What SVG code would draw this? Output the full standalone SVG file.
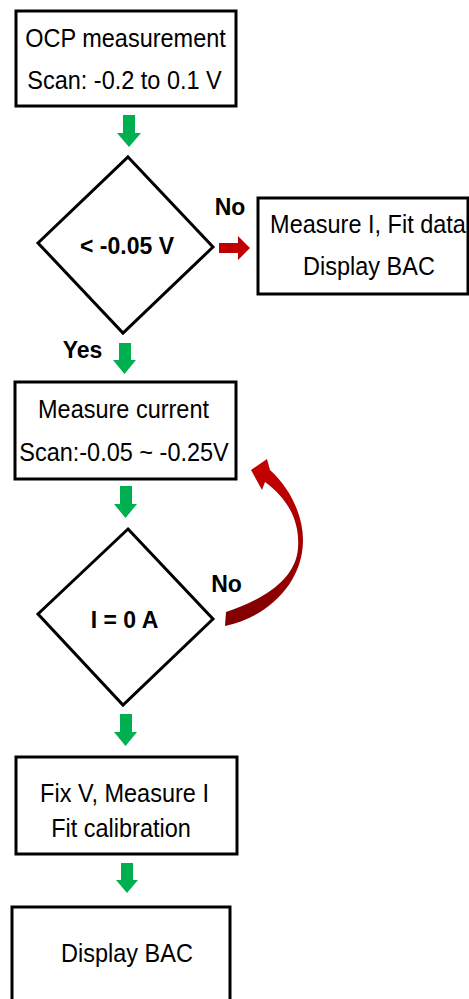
<svg xmlns="http://www.w3.org/2000/svg" width="469" height="999" viewBox="0 0 469 999">
<defs>
<style>
.box{fill:#fff;stroke:#000;stroke-width:3}
.dia{fill:#fff;stroke:#000;stroke-width:3;stroke-linejoin:miter}
.t{font-family:"Liberation Sans",Arial,sans-serif;font-size:23.5px;fill:#000;text-anchor:middle}
.b{font-family:"Liberation Sans",Arial,sans-serif;font-size:23px;font-weight:bold;fill:#000;text-anchor:middle}
.g{fill:#00b050}
.r{fill:#c00000}
</style>
<linearGradient id="rg" x1="0" y1="0" x2="0" y2="1">
<stop offset="0" stop-color="#c80000"/>
<stop offset="1" stop-color="#7f0000"/>
</linearGradient>
</defs>
<rect width="469" height="999" fill="#fff"/>

<g id="n1">
<rect class="box" x="16" y="11" width="220" height="95"/>
<text class="t" transform="translate(125.5,47) scale(1,1.1)">OCP measurement</text>
<text class="t" transform="translate(124.5,89) scale(1,1.1)">Scan: -0.2 to 0.1 V</text>
</g>

<g id="d1">
<polygon class="dia" points="128,157 213,247 123,333 38,243"/>
<text class="b" x="127" y="254">&lt; -0.05 V</text>
</g>

<g id="n2">
<rect class="box" x="258" y="198" width="210" height="96"/>
<text class="t" transform="translate(368,233) scale(1,1.1)">Measure I, Fit data</text>
<text class="t" transform="translate(369,275) scale(1,1.1)">Display BAC</text>
</g>

<g id="n3">
<rect class="box" x="15" y="382" width="221" height="97"/>
<text class="t" transform="translate(123.5,418) scale(1,1.1)">Measure current</text>
<text class="t" transform="translate(124,461) scale(1,1.1)">Scan:-0.05 ~ -0.25V</text>
</g>

<g id="d2">
<polygon class="dia" points="128,529 213,619 123,705 38,614"/>
<text class="b" x="124.5" y="628">I = 0 A</text>
</g>

<g id="n4">
<rect class="box" x="16" y="757" width="221" height="97"/>
<text class="t" transform="translate(124.5,802) scale(1,1.1)">Fix V, Measure I</text>
<text class="t" transform="translate(121,837) scale(1,1.1)">Fit calibration</text>
</g>

<g id="n5">
<rect class="box" x="12" y="907" width="218" height="100"/>
<text class="t" transform="translate(127,962) scale(1,1.1)">Display BAC</text>
</g>

<g id="connectors">
<path class="g" d="M123,115 H135 V133 H141 L129,147 L117,133 H123 Z"/>
<path class="g" d="M119,343 H131 V360 H136 L124.5,374 L113,360 H119 Z"/>
<path class="g" d="M120,486 H132 V504 H137 L125.5,518 L114,504 H120 Z"/>
<path class="g" d="M120,714 H132 V732 H137 L125.5,746 L114,732 H120 Z"/>
<path class="g" d="M121,863 H133 V880 H138 L127,893 L116,880 H121 Z"/>
<path class="r" d="M219,243 H238 V236 L250,248 L238,260 V253 H219 Z"/>
<path fill="url(#rg)" d="M251,470 L267,459 L270,470 C290,488 303,515 303,540 C303,585 265,618 225,626 L226,612 C262,600 296,580 298,548 C300,520 287,498 265,482 L262,490 Z"/>
<text class="b" x="230" y="215">No</text>
<text class="b" x="82.5" y="358">Yes</text>
<text class="b" x="226.5" y="592">No</text>
</g>
</svg>
